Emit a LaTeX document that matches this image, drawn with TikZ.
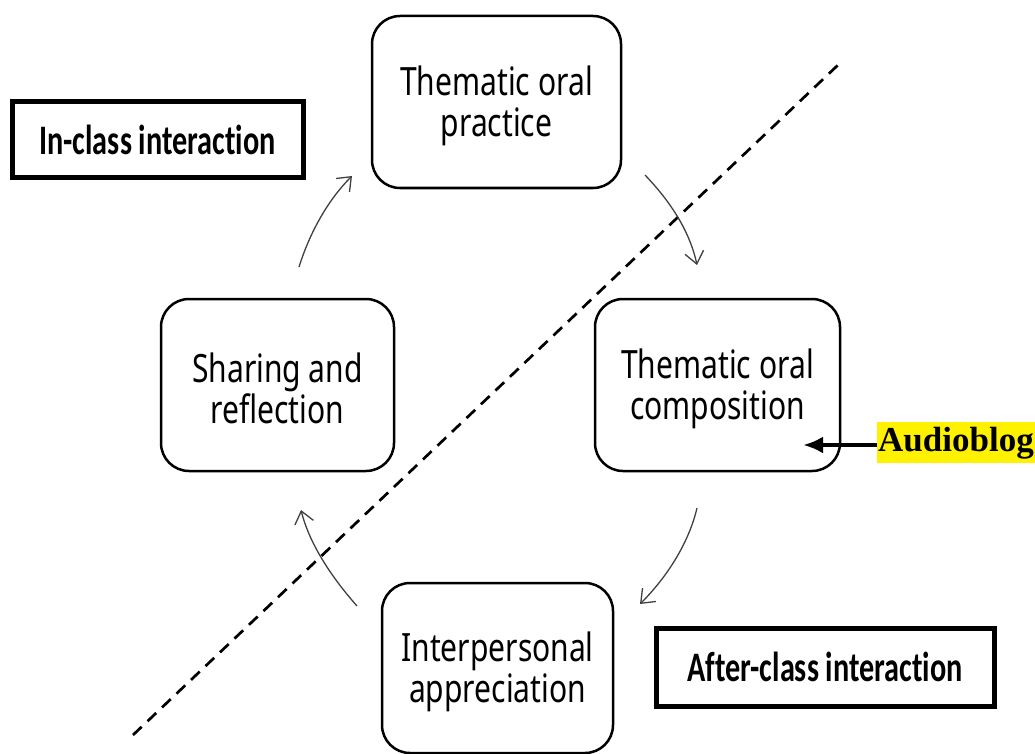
\documentclass[tikz,border=0pt]{standalone}
\usepackage{fontspec}
\usetikzlibrary{arrows.meta}
\newfontfamily\boxfont[FakeStretch=0.77]{Noto Sans}
\newfontfamily\labfont[FakeStretch=0.72,Ligatures=NoCommon]{Carlito}
\newfontfamily\serffont{Liberation Serif}
\newcommand\topstrut{\rule{0pt}{37pt}}
\tikzset{
  stage/.style={draw, rectangle, rounded corners=28pt, line width=2.5pt, align=center,
    font=\boxfont\fontsize{39}{41}\selectfont, minimum height=172pt, inner sep=0pt},
  phase/.style={draw, rectangle, line width=5pt, align=center,
    font=\labfont\bfseries\fontsize{42}{44}\selectfont, inner sep=0pt},
  flow/.style={line width=1.3pt, draw=black!75, -{Straight Barb[length=12pt,width=19pt,line width=1.3pt]}},
}
\begin{document}
\begin{tikzpicture}[x=1pt,y=-1pt]
\useasboundingbox (0,0) rectangle (1035,754);
% dashed divider
\coordinate (d1) at (133,735);
\coordinate (d2) at (838,65);
\draw[line width=2.7pt, dash pattern=on 12pt off 8pt] (d1) -- (d2);
% stage boxes
\node[stage, minimum width=249pt] (top) at (496.5,102) {\topstrut Thematic oral\\practice};
\node[stage, minimum width=233pt] (left) at (277.5,385) {\topstrut Sharing and\\reflection};
\node[stage, minimum width=245pt] (right) at (717.5,385) {\topstrut Thematic oral\\composition};
\node[stage, minimum width=231pt, minimum height=170pt] (bottom) at (497.5,668) {\topstrut Interpersonal\\appreciation};
% phase labels
\node[phase, minimum width=291pt, minimum height=76pt] (inclass) at (157.5,140) {In-class interaction};
\node[phase, minimum width=338pt, minimum height=78pt] (afterclass) at (825,667) {After-class interaction};
% cycle arrows
\coordinate (a1s) at (299,267); \coordinate (a1e) at (352,176);
\coordinate (a2s) at (645,175); \coordinate (a2e) at (697,265);
\coordinate (a3s) at (697,508); \coordinate (a3e) at (640,604);
\coordinate (a4s) at (357,606); \coordinate (a4e) at (301,510);
\draw[flow] (a1s) .. controls (310,232) and (328,200) .. (a1e);
\draw[flow] (a2s) .. controls (667,198) and (689,228) .. (a2e);
\draw[flow] (a3s) .. controls (689,542) and (668,576) .. (a3e);
\draw[flow] (a4s) .. controls (334,580) and (310,546) .. (a4e);
% audioblog
\node[anchor=west, fill=yellow, inner xsep=1pt, inner ysep=3pt, text height=26pt, text depth=9pt,
  font=\serffont\bfseries\fontsize{35}{35}\selectfont] (audio) at (877,442.5) {Audioblog};
\coordinate (atip) at (803,445);
\draw[line width=4pt, -{Latex[length=20pt,width=17pt]}] (audio.west |- atip) -- (atip);
\end{tikzpicture}
\end{document}
